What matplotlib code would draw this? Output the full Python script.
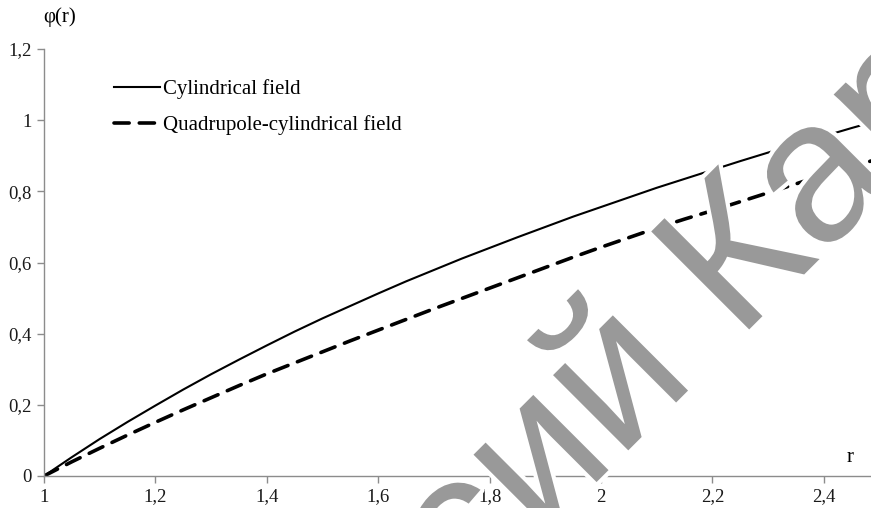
import matplotlib.pyplot as plt
import matplotlib.patheffects as pe
from matplotlib.ticker import FuncFormatter

# potential vs radius
r = [1.0, 1.05, 1.1, 1.15, 1.2, 1.25, 1.3, 1.35, 1.4, 1.45, 1.5, 1.55, 1.6, 1.65, 1.7,
     1.75, 1.8, 1.85, 1.9, 1.95, 2.0, 2.05, 2.1, 2.15, 2.2, 2.25, 2.3, 2.35, 2.4, 2.45, 2.5]
phi_cyl = [0.0, 0.053, 0.104, 0.152, 0.198, 0.243, 0.286, 0.327, 0.367, 0.406, 0.443,
           0.478, 0.513, 0.547, 0.579, 0.611, 0.641, 0.671, 0.700, 0.729, 0.756, 0.783,
           0.810, 0.835, 0.860, 0.885, 0.909, 0.932, 0.955, 0.978, 1.0]
phi_quad = [0.0, 0.040, 0.078, 0.115, 0.151, 0.186, 0.220, 0.254, 0.287, 0.318, 0.349,
            0.380, 0.410, 0.440, 0.470, 0.499, 0.528, 0.557, 0.586, 0.615, 0.643, 0.670,
            0.697, 0.722, 0.746, 0.771, 0.796, 0.821, 0.847, 0.870, 0.892]

x_ticks = [1.0, 1.2, 1.4, 1.6, 1.8, 2.0, 2.2, 2.4]
y_ticks = [0.0, 0.2, 0.4, 0.6, 0.8, 1.0, 1.2]

serif = 'Liberation Serif'
axis_grey = '#8c8c8c'

fig = plt.figure(figsize=(8.71, 5.08), dpi=100)
ax = fig.add_axes([44 / 871, 32 / 508, (879.6 - 44) / 871, 427 / 508])

ax.plot(r, phi_cyl, color='black', lw=1.5, label='Cylindrical field')
ax.plot(r, phi_quad, color='black', lw=2.6, dashes=(4.2, 2.8), dash_capstyle='round',
        label='Quadrupole-cylindrical field')

ax.set_xlim(1, 2.5)
ax.set_ylim(0, 1.2)
ax.set_xticks(x_ticks)
ax.set_yticks(y_ticks)

comma = FuncFormatter(lambda v, pos: ('%g' % round(v, 2)).replace('.', ','))
ax.xaxis.set_major_formatter(comma)
ax.yaxis.set_major_formatter(comma)

for s in ['top', 'right']:
    ax.spines[s].set_visible(False)
for s in ['left', 'bottom']:
    ax.spines[s].set_color(axis_grey)
    ax.spines[s].set_linewidth(1.0)

ax.tick_params(axis='both', direction='out', length=5, width=1.0, color=axis_grey,
               labelsize=13.5, labelcolor='#1a1a1a', pad=4)
for lab in ax.get_xticklabels() + ax.get_yticklabels():
    lab.set_fontfamily(serif)

fig.text(43 / 871, 1 - 17 / 508, 'φ(r)', family=serif, fontsize=15, ha='left', va='center')
fig.text(850 / 871, 1 - 458 / 508, 'r', family=serif, fontsize=15, ha='center', va='center')

leg = ax.legend(loc='upper left', bbox_to_anchor=(114 / 871, 1 - 79 / 508),
                bbox_transform=fig.transFigure, borderaxespad=0, borderpad=0,
                frameon=False, prop={'family': serif, 'size': 15},
                handlelength=2.2, handletextpad=0.15, labelspacing=0.8)

# watermark over the plot
fig.text(0.787, 0.375, 'сий Кар', fontsize=145, color='#999999', rotation=45,
         ha='center', va='center', family='Liberation Sans', zorder=10,
         path_effects=[pe.withStroke(linewidth=6, foreground='white')])

fig.savefig('out.png', dpi=100)
